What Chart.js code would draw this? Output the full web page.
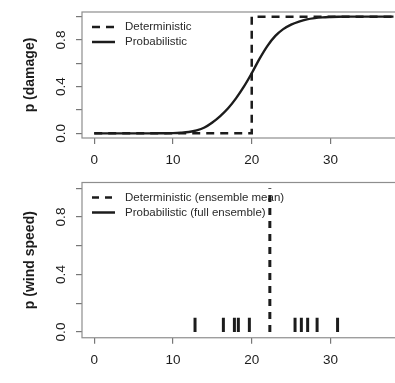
<!DOCTYPE html>
<html>
<head>
<meta charset="utf-8">
<script src="https://cdn.jsdelivr.net/npm/chart.js@4.4.1/dist/chart.umd.min.js"></script>
<style>
    html, body { margin: 0; padding: 0; background: #fff; overflow: hidden; }
    #wrap { position: relative; width: 395px; height: 383px; overflow: hidden; }
    #damageChart { position: absolute; left: 0; top: 0; }
    #windChart { position: absolute; left: 0; top: 180px; }
</style>
</head>
<body>
<div id="wrap">
    <canvas id="damageChart" width="420" height="180"></canvas>
    <canvas id="windChart" width="420" height="230"></canvas>
</div>
<script>
// ---- data ----
const windSpeeds = [0, 1, 2, 3, 4, 5, 6, 7, 8, 9, 10, 11, 12, 13, 14, 15, 16, 17, 18, 19,
    20, 21, 22, 23, 24, 25, 26, 27, 28, 29, 30, 31, 32, 33, 34, 35, 36, 37, 38];
const probDamage = [0, 0, 0, 0, 0, 0, 0, 0, 0.001, 0.001, 0.002, 0.005, 0.011, 0.025, 0.05,
    0.093, 0.148, 0.215, 0.30, 0.40, 0.515, 0.64, 0.75, 0.835, 0.893, 0.932, 0.958, 0.977,
    0.988, 0.994, 0.997, 0.999, 1, 1, 1, 1, 1, 1, 1];
const detDamageX = [0, 20, 20, 38.8];
const detDamageY = [0, 0, 1, 1];

const ensembleMembers = [12.8, 16.4, 17.8, 18.3, 19.7, 25.5, 26.3, 27.1, 28.3, 30.9];
const ensembleMean = 22.3;
const rugHeight = 0.1;

const xTicks = [0, 10, 20, 30];
const yTicks = [0, 0.2, 0.4, 0.6, 0.8, 1.0];
const yTickLabels = ['0.0', '', '0.4', '', '0.8', ''];

const FONT = '"Liberation Sans", Arial, sans-serif';
const INK = '#1c1c1c';

// กรอบรอบพื้นที่กราฟ (แบบ R box())
const framePlugin = {
    id: 'frame',
    beforeDatasetsDraw(chart) {
        const { ctx, chartArea: a } = chart;
        ctx.save();
        ctx.strokeStyle = '#8e8e8e';
        ctx.lineWidth = 1.2;
        ctx.strokeRect(a.left, a.top, a.right - a.left, a.bottom - a.top);
        ctx.restore();
    }
};

// y tick labels หมุน 90 องศา + ชื่อแกน
const yLabelsPlugin = {
    id: 'yLabels',
    afterDraw(chart, args, opts) {
        const { ctx, scales: { y, x } } = chart;
        ctx.save();
        ctx.fillStyle = INK;
        ctx.textAlign = 'center';
        ctx.textBaseline = 'alphabetic';
        ctx.font = '13.5px ' + FONT;
        y.ticks.forEach((t, i) => {
            const label = yTickLabels[i];
            if (!label) return;
            ctx.save();
            ctx.translate(65, y.getPixelForValue(t.value));
            ctx.rotate(-Math.PI / 2);
            ctx.fillText(label, 0, 0);
            ctx.restore();
        });
        ctx.font = 'bold 14px ' + FONT;
        ctx.save();
        ctx.translate(34, (y.top + y.bottom) / 2);
        ctx.rotate(-Math.PI / 2);
        ctx.fillText(opts.title, 0, 0);
        ctx.restore();
        if (opts.xTitle) {
            ctx.fillText(opts.xTitle, (x.left + x.right) / 2, x.bottom - x.height + 58);
        }
        ctx.restore();
    }
};

// legend มุมบนซ้ายในกรอบ
const boxLegendPlugin = {
    id: 'boxLegend',
    afterDraw(chart) {
        const { ctx, chartArea: a } = chart;
        ctx.save();
        ctx.font = '11.5px ' + FONT;
        ctx.fillStyle = '#2a2a2a';
        ctx.textBaseline = 'middle';
        chart.data.datasets.forEach((ds, i) => {
            const rowY = a.top + 15 + i * 15;
            ctx.strokeStyle = INK;
            ctx.lineWidth = 2.5;
            ctx.setLineDash(ds.borderDash || []);
            ctx.beginPath();
            ctx.moveTo(a.left + 10, rowY);
            ctx.lineTo(a.left + 33, rowY);
            ctx.stroke();
            ctx.setLineDash([]);
            ctx.fillText(ds.label, a.left + 43, rowY);
        });
        ctx.restore();
    }
};

function makeScales(xHeight) {
    return {
        x: {
            type: 'linear',
            min: -1.552,
            max: 40.35,
            afterBuildTicks: s => { s.ticks = xTicks.map(v => ({ value: v })); },
            afterFit: s => { s.height = xHeight; },
            grid: { drawOnChartArea: false, drawTicks: true, tickLength: 6, color: '#777', lineWidth: 1.2 },
            border: { display: false },
            ticks: {
                font: { family: FONT, size: 13.5 },
                color: INK,
                padding: 8,
                maxRotation: 0,
                autoSkip: false,
                callback: v => String(v)
            }
        },
        y: {
            type: 'linear',
            min: -0.04,
            max: 1.04,
            afterBuildTicks: s => { s.ticks = yTicks.map(v => ({ value: v })); },
            afterFit: s => { s.width = 82; },
            grid: { drawOnChartArea: false, drawTicks: true, tickLength: 6, color: '#777', lineWidth: 1.2 },
            border: { display: false },
            ticks: { display: false }
        }
    };
}

function baseOptions(padTop, xHeight, title, xTitle) {
    return {
        responsive: false,
        devicePixelRatio: 1,
        animation: false,
        layout: { padding: { top: padTop, right: 8, left: 0, bottom: 0 } },
        scales: makeScales(xHeight),
        plugins: {
            legend: { display: false },
            tooltip: { enabled: false },
            yLabels: { title: title, xTitle: xTitle }
        }
    };
}

// ---- top: p (damage) ----
new Chart(document.getElementById('damageChart'), {
    type: 'line',
    data: {
        datasets: [{
            label: 'Deterministic',
            data: detDamageX.map((x, i) => ({ x: x, y: detDamageY[i] })),
            borderColor: INK,
            borderWidth: 2.5,
            borderDash: [8, 6],
            pointRadius: 0,
            fill: false,
            order: 2
        }, {
            label: 'Probabilistic',
            data: windSpeeds.map((x, i) => ({ x: x, y: probDamage[i] })),
            borderColor: INK,
            borderWidth: 2.4,
            cubicInterpolationMode: 'monotone',
            pointRadius: 0,
            fill: false,
            order: 1
        }]
    },
    options: baseOptions(12, 42, 'p (damage)', null),
    plugins: [framePlugin, yLabelsPlugin, boxLegendPlugin]
});

// ---- bottom: p (wind speed) ----
const rugPoints = ensembleMembers.flatMap(m => [
    { x: m, y: 0 }, { x: m, y: rugHeight }, { x: m, y: null }
]);

new Chart(document.getElementById('windChart'), {
    type: 'line',
    data: {
        datasets: [{
            label: 'Deterministic (ensemble mean)',
            data: [{ x: ensembleMean, y: 0 }, { x: ensembleMean, y: 1 }],
            borderColor: INK,
            borderWidth: 3,
            borderDash: [7, 6],
            pointRadius: 0,
            fill: false
        }, {
            label: 'Probabilistic (full ensemble)',
            data: rugPoints,
            borderColor: INK,
            borderWidth: 3,
            spanGaps: false,
            pointRadius: 0,
            fill: false
        }]
    },
    options: baseOptions(2.5, 72.25, 'p (wind speed)', 'Wind speed (m/s)'),
    plugins: [framePlugin, yLabelsPlugin, boxLegendPlugin]
});
</script>
</body>
</html>
